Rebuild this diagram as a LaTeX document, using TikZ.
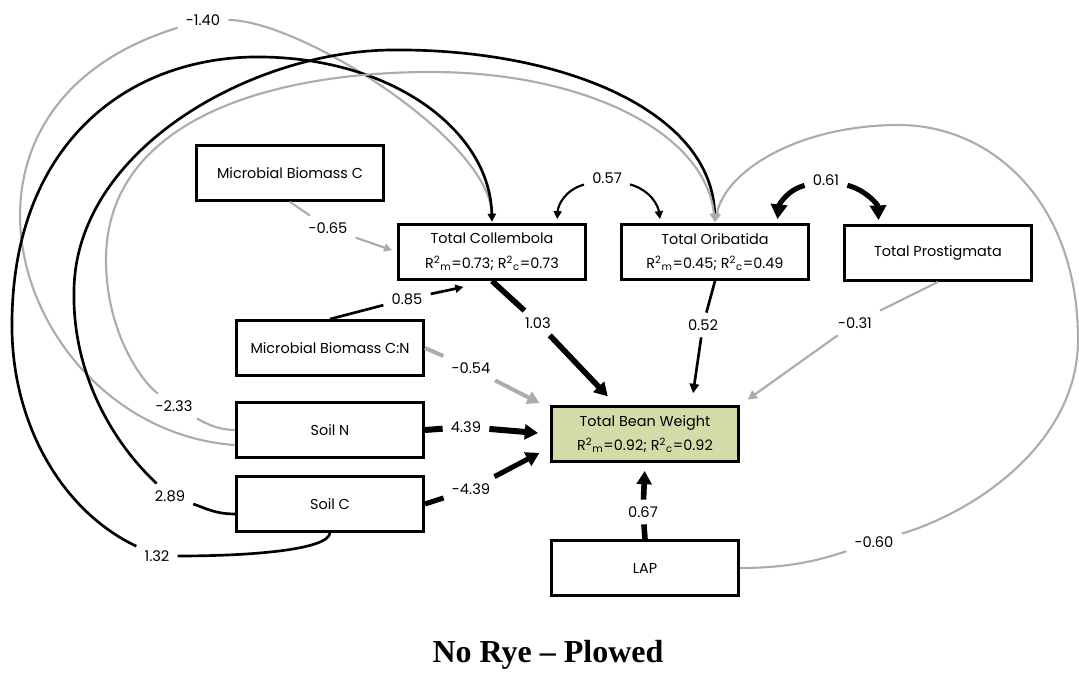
\documentclass[tikz,border=0pt]{standalone}
\usepackage{fontspec}
\setmainfont{Poppins}
\newfontfamily\titlefont{Liberation Serif}
\usetikzlibrary{arrows.meta}
\definecolor{edgegray}{RGB}{172,172,172}
\definecolor{beanfill}{RGB}{211,220,168}

\begin{document}
\begin{tikzpicture}[x=0.75pt, y=-0.75pt,
    var/.style={draw, line width=2.4pt, minimum width=140pt, minimum height=41pt, align=center, inner sep=2pt, font=\fontsize{10.8}{18.5}\selectfont},
    coef/.style={fill=white, inner xsep=6pt, inner ysep=5pt, font=\fontsize{11}{12}\selectfont},
    posarr/.style={-{Triangle[length=6pt,width=6pt]}, line width=1.6pt, shorten >=1pt},
    negarr/.style={posarr, draw=edgegray},
    thickarr/.style={-{Triangle[length=10pt,width=11pt]}, line width=4.2pt, shorten >=9pt},
    corr/.style={-{Triangle[length=6pt,width=6pt]}, line width=1.6pt, shorten >=3pt},
    bigcorr/.style={-{Triangle[length=11pt,width=12pt]}, line width=3.8pt, shorten >=3pt}
  ]
    \useasboundingbox (0,0) rectangle (1079,673);

    \node[var] (mbc)   at (290,173) {Microbial Biomass C};
    \node[var] (coll)  at (492,252) {Total Collembola\\R\textsuperscript{2}\textsubscript{m}=0.73; R\textsuperscript{2}\textsubscript{c}=0.73};
    \node[var] (orib)  at (715,252) {Total Oribatida\\R\textsuperscript{2}\textsubscript{m}=0.45; R\textsuperscript{2}\textsubscript{c}=0.49};
    \node[var] (prost) at (938,253) {Total Prostigmata};
    \node[var] (mbcn)  at (330,348) {Microbial Biomass C:N};
    \node[var] (soiln) at (330,430) {Soil N};
    \node[var] (soilc) at (330,504) {Soil C};
    \node[var, fill=beanfill] (tbw) at (645,434) {Total Bean Weight\\R\textsuperscript{2}\textsubscript{m}=0.92; R\textsuperscript{2}\textsubscript{c}=0.92};
    \node[var] (lap)   at (645,568) {LAP};

    % path coefficients
    \node[coef] (l140)  at (203,20)  {-1.40};
    \node[coef] (l065)  at (328,228) {-0.65};
    \node[coef] (l085)  at (407,299) {0.85};
    \node[coef] (l103)  at (538,323) {1.03};
    \node[coef] (l057)  at (607,178) {0.57};
    \node[coef] (l061)  at (826,180) {0.61};
    \node[coef] (l052)  at (703,325) {0.52};
    \node[coef] (l031)  at (855,323) {-0.31};
    \node[coef] (l054)  at (471,368) {-0.54};
    \node[coef] (l233)  at (174,406) {-2.33};
    \node[coef] (l439)  at (466,427) {4.39};
    \node[coef] (l289)  at (170,496) {2.89};
    \node[coef] (l439n) at (471,489) {-4.39};
    \node[coef] (l132)  at (157,556) {1.32};
    \node[coef] (l067)  at (643,512) {0.67};
    \node[coef] (l060)  at (874,542) {-0.60};

    \draw[negarr, shorten >=4pt] (mbc.south) -- (l065) -- (coll.west);
    \draw[posarr, line width=2pt, shorten >=22pt] (mbcn.north) -- (l085) -- (coll.south);
    \draw[thickarr] (coll.south) -- (l103) -- (tbw.135);
    \draw[posarr, line width=2pt, -{Triangle[length=7pt,width=7pt]}, shorten >=9pt] (orib.south) -- (l052) -- (tbw.32);
    \draw[negarr, -{Triangle[length=7pt,width=7pt]}, shorten >=7pt] (prost.south) -- (l031) -- (tbw.north east);
    \draw[negarr, line width=3pt, -{Triangle[length=9pt,width=10pt]}, shorten >=9pt] (mbcn.east) -- (l054) -- (tbw.165);
    \draw[thickarr, line width=4.5pt] (soiln.east) -- (l439) -- (tbw.west);
    \draw[thickarr, line width=3.8pt] (soilc.east) -- (l439n) -- (tbw.188);
    \draw[thickarr, shorten >=6pt] (lap.north) -- (l067) -- (tbw.south);

    % covariances
    \draw[corr] (l057) .. controls (565,190) and (558,205) .. (coll.24);
    \draw[corr] (l057) .. controls (650,190) and (658,205) .. (orib.152);
    \draw[bigcorr] (l061) .. controls (787,190) and (779,205) .. (orib.25);
    \draw[bigcorr] (l061) .. controls (866,190) and (878,205) .. (prost.154);

    % long curves
    \draw[negarr] (soiln.189) .. controls (20,430) and (-90,110) .. (l140) .. controls (300,20) and (490,140) .. (coll.north);
    \draw[posarr, line width=2pt] (soilc.south) .. controls (328,550) and (250,556) .. (l132) .. controls (60,510) and (10,420) .. (12,320) .. controls (14,150) and (120,60) .. (252,57) .. controls (390,55) and (490,130) .. (coll.north);
    \draw[posarr, line width=2pt] (soilc.186) .. controls (215,514) and (205,508) .. (l289) .. controls (110,440) and (72,370) .. (74,290) .. controls (76,150) and (250,52) .. (390,50) .. controls (560,48) and (712,110) .. (orib.north);
    \draw[negarr] (soiln.west) .. controls (215,430) and (200,420) .. (l233) .. controls (140,380) and (106,330) .. (106,260) .. controls (106,120) and (270,72) .. (431,72) .. controls (580,72) and (705,130) .. (orib.north);
    \draw[negarr] (lap.east) .. controls (790,568) and (820,560) .. (l060) .. controls (980,510) and (1078,440) .. (1078,340) .. controls (1078,200) and (990,125) .. (899,125) .. controls (800,125) and (725,170) .. (orib.north);

    \node[font=\titlefont\bfseries\fontsize{24}{27}\selectfont] (title) at (548,655) {No Rye – Plowed};
  \end{tikzpicture}
\end{document}
